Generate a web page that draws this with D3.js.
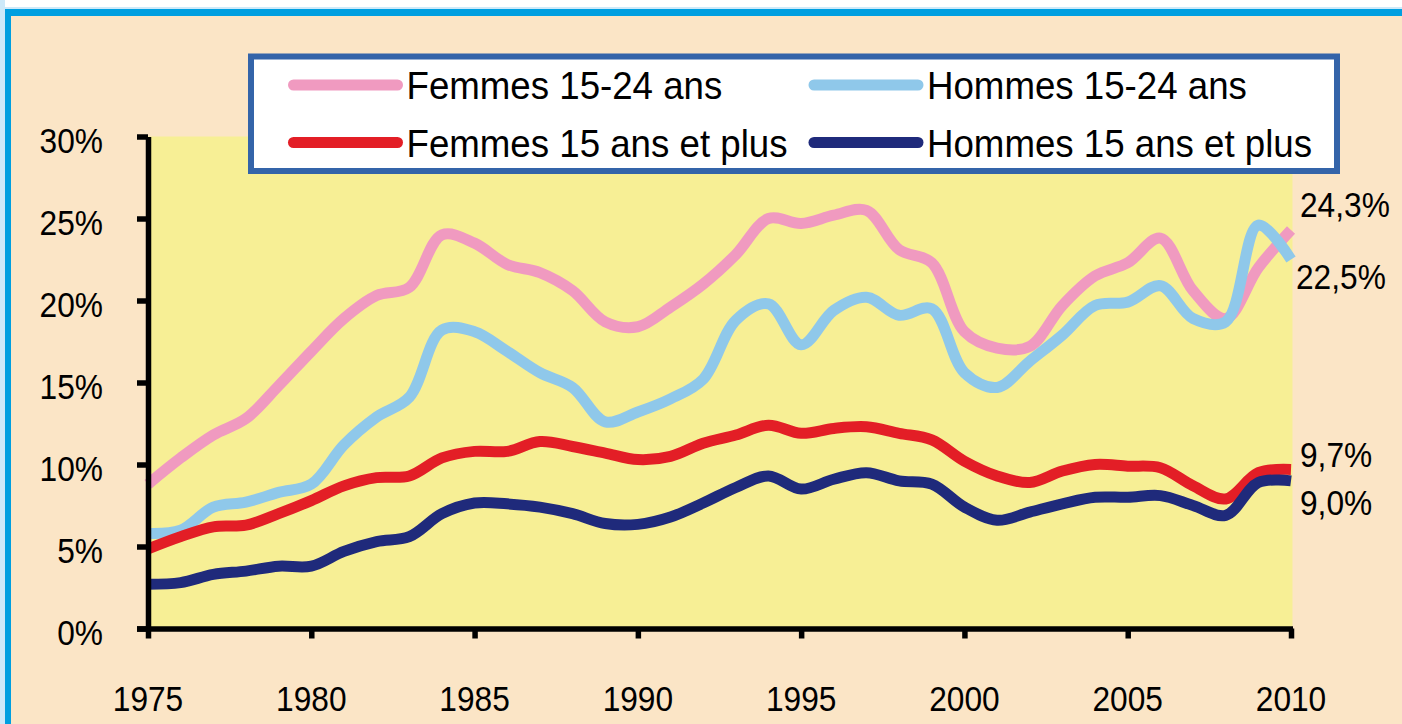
<!DOCTYPE html>
<html>
<head>
<meta charset="utf-8">
<script src="https://cdn.jsdelivr.net/npm/d3@7"></script>
<style>
  body { margin: 0; background: #fff; }
  svg { display: block; }
  text { font-family: "Liberation Sans", Arial, sans-serif; fill: #000; }
</style>
</head>
<body>
<svg id="chart" width="1402" height="724"></svg>
<script>
// data (unemployment rates, %)
const years = [1975, 1976, 1977, 1978, 1979, 1980, 1981, 1982, 1983, 1984, 1985, 1986,
  1987, 1988, 1989, 1990, 1991, 1992, 1993, 1994, 1995, 1996, 1997, 1998, 1999, 2000,
  2001, 2002, 2003, 2004, 2005, 2006, 2007, 2008, 2009, 2010];
const femmes1524 = [8.8, 10.4, 11.8, 12.8, 14.8, 16.9, 18.9, 20.3, 20.8, 24.0, 23.5, 22.2,
  21.7, 20.6, 18.7, 18.4, 19.6, 21.0, 22.8, 25.0, 24.7, 25.2, 25.5, 23.1, 22.3, 18.1,
  17.1, 17.2, 19.7, 21.5, 22.3, 23.8, 20.6, 18.9, 22.0, 24.3];
const hommes1524 = [5.8, 6.0, 7.4, 7.7, 8.3, 8.8, 11.2, 12.9, 14.1, 18.2, 18.1, 16.9,
  15.6, 14.7, 12.6, 13.2, 14.0, 15.2, 18.8, 19.8, 17.3, 19.4, 20.2, 19.1, 19.5, 15.6,
  14.7, 16.3, 17.9, 19.7, 19.9, 20.9, 18.9, 18.7, 24.6, 22.5];
const femmes15plus = [4.85, 5.6, 6.2, 6.3, 7.0, 7.8, 8.7, 9.2, 9.3, 10.4, 10.8, 10.8,
  11.4, 11.1, 10.7, 10.3, 10.5, 11.3, 11.8, 12.4, 11.9, 12.2, 12.3, 11.9, 11.5, 10.2,
  9.3, 8.9, 9.6, 10.0, 9.9, 9.8, 8.7, 7.9, 9.5, 9.7];
const hommes15plus = [2.7, 2.8, 3.3, 3.5, 3.8, 3.8, 4.7, 5.3, 5.6, 7.0, 7.65, 7.6,
  7.4, 7.0, 6.4, 6.35, 6.8, 7.65, 8.6, 9.3, 8.5, 9.1, 9.5, 9.0, 8.8, 7.4,
  6.6, 7.1, 7.6, 8.0, 8.0, 8.1, 7.5, 6.9, 8.9, 9.0];

const seriesNames = ["Femmes 15-24 ans", "Hommes 15-24 ans", "Femmes 15 ans et plus", "Hommes 15 ans et plus"];
const seriesColors = ["#f09ac0", "#8fc8ea", "#e31e26", "#1f2a7b"];
const yTicks = [0, 5, 10, 15, 20, 25, 30];
const xTicks = [1975, 1980, 1985, 1990, 1995, 2000, 2005, 2010];
const endLabels = ["24,3%", "22,5%", "9,7%", "9,0%"];
const endValues = [24.3, 22.5, 9.7, 9.0];
const endOffsets = [-13, 29, -2, 34]; // label baseline shift from the line end

const series = [femmes1524, hommes1524, femmes15plus, hommes15plus];

const svg = d3.select("#chart");

// frame
svg.append("rect").attr("x", 0).attr("y", 0).attr("width", 5).attr("height", 724).attr("fill", "#cde9f9");
svg.append("rect").attr("x", 5).attr("y", 7).attr("width", 1397).attr("height", 3).attr("fill", "#cde9f9");
svg.append("rect").attr("x", 5).attr("y", 9).attr("width", 1397).attr("height", 715).attr("fill", "#009fe0");
svg.append("rect").attr("x", 11).attr("y", 16).attr("width", 1391).attr("height", 708).attr("fill", "#fbe5c6");

const x = d3.scaleLinear().domain([1975, 2010]).range([148, 1291]);
const y = d3.scaleLinear().domain([0, 30]).range([628.5, 136.5]);

// plot area
svg.append("rect")
  .attr("x", x(1975)).attr("y", y(30))
  .attr("width", x(2010) - x(1975) + 1.5).attr("height", y(0) - y(30))
  .attr("fill", "#f7ef95");

// lines
const line = d3.line()
  .x((d, i) => x(years[i]))
  .y(d => y(d))
  .curve(d3.curveCatmullRom);

svg.selectAll("path.serie")
  .data(series)
  .enter()
  .append("path")
  .attr("class", "serie")
  .attr("d", line)
  .attr("fill", "none")
  .attr("stroke", (d, i) => seriesColors[i])
  .attr("stroke-width", 11)
  .attr("stroke-linejoin", "round");

// axes
const yAxis = svg.append("g")
  .attr("transform", `translate(${x(1975)},0)`)
  .call(d3.axisLeft(y).tickValues(yTicks).tickSize(11).tickSizeOuter(0).tickFormat(""));
const xAxis = svg.append("g")
  .attr("transform", `translate(0,${y(0)})`)
  .call(d3.axisBottom(x).tickValues(xTicks).tickSize(10).tickSizeOuter(0).tickFormat(""));
[yAxis, xAxis].forEach(g => {
  g.select(".domain").attr("stroke", "#000").attr("stroke-width", 5.5);
  g.selectAll(".tick line").attr("stroke", "#000").attr("stroke-width", 5.5);
});
xAxis.select(".domain").attr("d", `M${x(1975) - 11},0.5H${x(2010) + 2}`);

// tick labels (slightly condensed like the original)
svg.selectAll("text.ylab")
  .data(yTicks)
  .enter()
  .append("text")
  .attr("class", "ylab")
  .attr("transform", d => `translate(103,${y(d) + 16}) scale(0.88,1)`)
  .attr("text-anchor", "end")
  .attr("font-size", 36)
  .text(d => d + "%");

svg.selectAll("text.xlab")
  .data(xTicks)
  .enter()
  .append("text")
  .attr("class", "xlab")
  .attr("transform", d => `translate(${x(d)},711) scale(0.88,1)`)
  .attr("text-anchor", "middle")
  .attr("font-size", 36)
  .text(d => d);

// end labels
svg.selectAll("text.endlab")
  .data(endLabels)
  .enter()
  .append("text")
  .attr("class", "endlab")
  .attr("transform", (d, i) => `translate(${i === 1 ? 1296 : 1300},${y(endValues[i]) + endOffsets[i]}) scale(0.88,1)`)
  .attr("font-size", 36)
  .text(d => d);

// legend
svg.append("rect")
  .attr("x", 251).attr("y", 56.5).attr("width", 1086).attr("height", 114.5)
  .attr("fill", "#fff").attr("stroke", "#3464a9").attr("stroke-width", 6);

const legendX = [293.5, 814];
const legendY = [85, 142.5];
const legend = svg.selectAll("g.leg")
  .data(seriesNames)
  .enter()
  .append("g")
  .attr("class", "leg")
  .attr("transform", (d, i) => `translate(${legendX[i % 2]},${legendY[Math.floor(i / 2)]})`);
legend.append("line")
  .attr("x1", 0).attr("x2", 104).attr("y1", 0).attr("y2", 0)
  .attr("stroke", (d, i) => seriesColors[i])
  .attr("stroke-width", 11)
  .attr("stroke-linecap", "round");
legend.append("text")
  .attr("transform", "translate(113,14) scale(0.965,1)")
  .attr("font-size", 38)
  .text(d => d);
</script>
</body>
</html>
